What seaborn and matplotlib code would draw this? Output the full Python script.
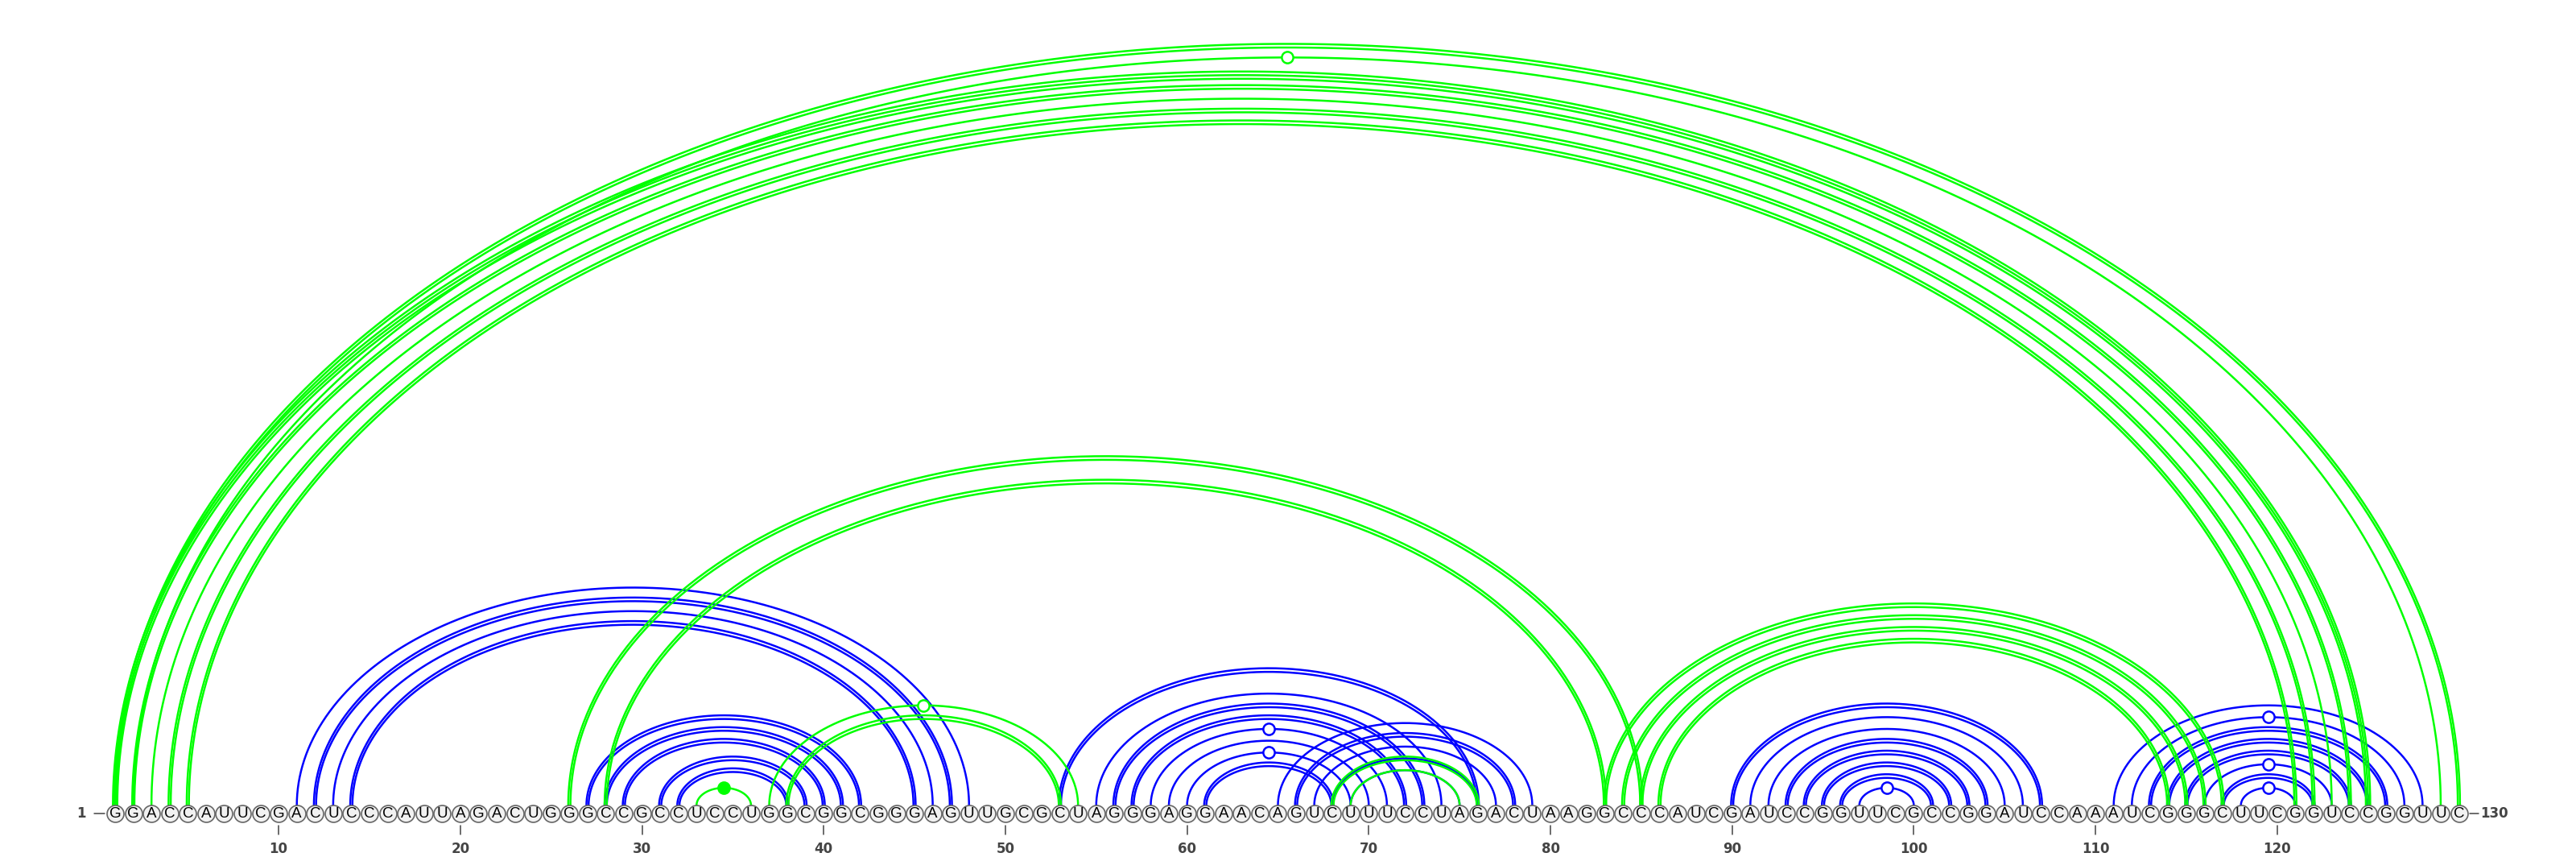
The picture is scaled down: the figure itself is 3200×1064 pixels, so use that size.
import numpy as np
import pandas as pd
import matplotlib
matplotlib.use('Agg')
import matplotlib.pyplot as plt
import seaborn as sns

# sequence, 130 nt
sequence = list("GGACCAUUCG" "ACUCCCAUUA" "GACUGGGCCG" "CCUCCUGGCG" "GCGGGAGUUG"
                "CGCUAGGGAG" "GAACAGUCUU" "UCCUAGACUA" "AGGCCCAUCG" "AUCCGGUUCG"
                "CCGGAUCCAA" "AUCGGGCUUC" "GGUCCGGUUC")

# blue base pairs (i, j) and how many lines each one is drawn with
blue_i = [11, 12, 13, 14, 27, 28, 29, 31, 32,
          53, 55, 56, 57, 58, 59, 60, 61, 65, 66, 67, 68, 69,
          90, 91, 92, 93, 94, 95, 96, 97,
          111, 112, 113, 114, 115, 116, 117, 118]
blue_j = [48, 47, 46, 45, 42, 41, 40, 39, 38,
          76, 74, 73, 72, 71, 70, 69, 68, 79, 78, 77, 76, 75,
          107, 106, 105, 104, 103, 102, 101, 100,
          128, 127, 126, 125, 124, 123, 122, 121]
blue_n = [1, 2, 1, 2, 2, 2, 2, 2, 2,
          2, 1, 2, 2, 1, 1, 1, 2, 1, 2, 1, 1, 1,
          2, 1, 1, 2, 2, 2, 2, 1,
          1, 1, 2, 2, 2, 1, 2, 1]

# green base pairs
green_i = [1, 2, 1, 2, 3, 4, 5, 26, 28, 83, 84, 85, 86, 37, 38, 33, 68, 69]
green_j = [130, 129, 125, 124, 123, 122, 121, 85, 83, 117, 116, 115, 114, 54, 53, 36, 76, 75]
green_n = [2, 1, 3, 2, 1, 2, 2, 2, 2, 2, 2, 2, 2, 1, 2, 1, 2, 1]

# arcs carrying a circle at their apex
mark_i = [2, 37, 33, 58, 60, 97, 112, 116, 118]
mark_j = [129, 54, 36, 71, 69, 100, 127, 123, 121]
mark_color = ['green', 'green', 'green', 'blue', 'blue', 'blue', 'blue', 'blue', 'blue']
mark_filled = [False, False, True, False, False, False, False, False, False]

tick_pos = list(range(10, 130, 10))

colors = {'blue': '#0000ff', 'green': '#00ff00'}
RATIO = 0.648   # arc height / half span
BASE = 0.44     # arcs start at the top of the nucleotide circles
DA, DB = 0.12, 0.2


def arc_frame(ii, jj, nn, kind):
    rows = []
    t = np.linspace(np.pi, 0, 240)
    for n_arc, (i, j, n) in enumerate(zip(ii, jj, nn)):
        for k in range(n):
            off = k - (n - 1) / 2
            a = (j - i) / 2 + off * DA
            b = RATIO * (j - i) / 2 + off * DB
            x = (i + j) / 2 + a * np.cos(t)
            y = BASE + b * np.sin(t)
            rows.append(pd.DataFrame({'x': x, 'y': y, 'line': f'{kind}{n_arc}_{k}', 'kind': kind}))
    return pd.concat(rows, ignore_index=True)


df_blue = arc_frame(blue_i, blue_j, blue_n, 'blue')
df_green = arc_frame(green_i, green_j, green_n, 'green')

px = 22.57
fig = plt.figure(figsize=(32, 10.64), dpi=100)
ax = fig.add_axes([0, 0, 1, 1])
sns.set_style('white')

sns.lineplot(data=df_blue, x='x', y='y', units='line', estimator=None, sort=False,
             hue='kind', palette=colors, linewidth=1.8, legend=False, ax=ax, zorder=1)
sns.lineplot(data=df_green, x='x', y='y', units='line', estimator=None, sort=False,
             hue='kind', palette=colors, linewidth=1.8, legend=False, ax=ax, zorder=2)

# apex markers
mk = pd.DataFrame({'x': [(i + j) / 2 for i, j in zip(mark_i, mark_j)],
                   'y': [BASE + RATIO * (j - i) / 2 for i, j in zip(mark_i, mark_j)],
                   'c': mark_color, 'filled': mark_filled})
for filled, sub in mk.groupby('filled'):
    for c, s2 in sub.groupby('c'):
        sns.scatterplot(data=s2, x='x', y='y', s=105, ax=ax, zorder=4, legend=False,
                        facecolor=colors[c] if filled else 'white',
                        edgecolor=colors[c], linewidth=1.8)

# nucleotides
nt = pd.DataFrame({'pos': np.arange(1, len(sequence) + 1), 'y': 0.0, 'base': sequence})
sns.scatterplot(data=nt, x='pos', y='y', s=228, color='#f1f1f1', edgecolor='#666666',
                linewidth=1.2, ax=ax, zorder=5, legend=False)
for p, b in zip(nt['pos'], nt['base']):
    ax.text(p, -0.02, b, ha='center', va='center', fontsize=13.5,
            family='Liberation Sans', color='black', zorder=6)

# position ticks
for p in tick_pos:
    ax.plot([p, p], [-0.66, -1.15], color='#444444', lw=1.1)
    ax.text(p, -1.95, str(p), ha='center', va='center', fontsize=12,
            fontweight='bold', color='#444444')

n = len(sequence)
ax.plot([-0.15, 0.42], [0, 0], color='#444444', lw=1.1)
ax.text(-0.6, -0.02, '1', ha='right', va='center', fontsize=12, fontweight='bold', color='#444444')
ax.plot([n + 0.6, n + 1.1], [0, 0], color='#444444', lw=1.1)
ax.text(n + 1.2, -0.02, str(n), ha='left', va='center', fontsize=12, fontweight='bold', color='#444444')

ax.set_xlim(1 - 143 / px, 1 - 143 / px + 3200 / px)
ax.set_ylim(-(1064 - 1010) / px, 1010 / px)
ax.set_axis_off()

plt.savefig('out.png', dpi=100)
